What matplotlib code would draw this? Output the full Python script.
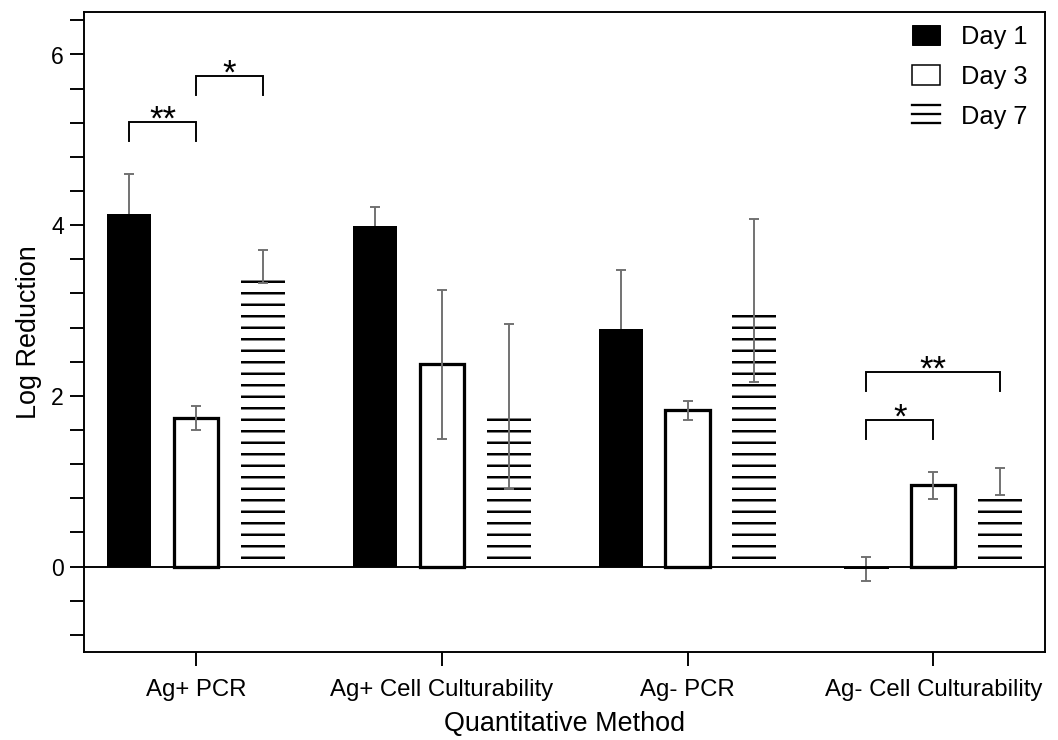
import matplotlib
matplotlib.use("Agg")
import matplotlib.pyplot as plt
import numpy as np
from matplotlib.ticker import MultipleLocator, FixedLocator
from matplotlib.legend_handler import HandlerBase
from matplotlib.lines import Line2D
from matplotlib.patches import Patch

# ---- data ----
categories = ["Ag+ PCR", "Ag+ Cell Culturability", "Ag- PCR", "Ag- Cell Culturability"]
series_labels = ["Day 1", "Day 3", "Day 7"]
day1 = [4.13, 3.99, 2.78, -0.03]
day1_err = [0.47, 0.22, 0.69, 0.14]
day3 = [1.74, 2.37, 1.83, 0.95]
day3_err = [0.14, 0.87, 0.11, 0.155]
day7 = [3.42, 1.79, 3.01, 0.90]
day7_err_low = [0.10, 0.88, 0.85, 0.06]
day7_err_high = [0.29, 1.05, 1.06, 0.26]
# significance brackets
sig_group = [0, 0, 3, 3]
sig_a = [0, 1, 0, 0]
sig_b = [1, 2, 1, 2]
sig_y = [5.21, 5.75, 1.72, 2.28]
sig_text = ["**", "*", "*", "**"]
y_ticks = [0, 2, 4, 6]

DPI = 69
plt.rcParams['font.family'] = ['Liberation Sans', 'DejaVu Sans']
plt.rcParams['hatch.linewidth'] = 2.6

fig = plt.figure(figsize=(1058.3 / DPI, 740.3 / DPI), dpi=DPI)
ax = fig.add_axes([84 / 1058, 88 / 740, (1045 - 84) / 1058, (652 - 12) / 740])

x = np.arange(len(categories))
off = 0.272
w = 0.18
ecol = '#6f6f6f'
ekw = dict(ecolor=ecol, elinewidth=2.0, capsize=5.5, capthick=2.0, fmt='none')

# Day 1
ax.errorbar(x - off, day1, yerr=day1_err, zorder=1, **ekw)
ax.bar(x - off, day1, w, color='black', zorder=2)
# Day 3
ax.bar(x, day3, w, facecolor='white', edgecolor='black', linewidth=3.4, zorder=2)
ax.errorbar(x, day3, yerr=day3_err, zorder=3, **ekw)
# Day 7
ax.bar(x + off, day7, w, facecolor='none', edgecolor='black', linewidth=0, hatch='-', zorder=2)
ax.errorbar(x + off, day7, yerr=[day7_err_low, day7_err_high], zorder=3, **ekw)

ax.axhline(0, color='black', lw=2.0, zorder=4)

# significance brackets
offsets = [-off, 0, off]
leg = 0.22
for g, a, b, yy, t in zip(sig_group, sig_a, sig_b, sig_y, sig_text):
    xa = x[g] + offsets[a]
    xb = x[g] + offsets[b]
    ax.plot([xa, xa, xb, xb], [yy - leg, yy, yy, yy - leg], color='black', lw=2.0,
            solid_joinstyle='miter', zorder=5)
    ax.annotate(t, xy=((xa + xb) / 2, yy), xytext=(0, -7.5), textcoords='offset points',
                ha='center', va='baseline', fontsize=36, zorder=5)

ax.set_xlim(-0.456, 3.456)
ax.set_ylim(-1, 6.5)
ax.set_xticks(x)
ax.set_xticklabels(categories)
ax.yaxis.set_major_locator(FixedLocator(y_ticks))
ax.yaxis.set_minor_locator(MultipleLocator(0.4))
ax.tick_params(axis='both', which='both', length=15, width=2, direction='out')
ax.tick_params(axis='x', which='major', labelsize=25, pad=13)
ax.tick_params(axis='y', which='major', labelsize=24, pad=6)
for s in ax.spines.values():
    s.set_linewidth(2)

ax.set_xlabel("Quantitative Method", fontsize=28, labelpad=10)
ax.set_ylabel("Log Reduction", fontsize=28, labelpad=10)


class ThreeLines(HandlerBase):
    def create_artists(self, legend, orig_handle, xdescent, ydescent, width, height, fontsize, trans):
        arts = []
        for f in (0.05, 0.5, 0.95):
            arts.append(Line2D([-xdescent, -xdescent + width], [-ydescent + f * height] * 2,
                               color='black', lw=2.4, transform=trans))
        return arts


h1 = Patch(facecolor='black', edgecolor='black')
h3 = Patch(facecolor='white', edgecolor='black', linewidth=1.6)
h7 = object()
ax.legend([h1, h3, h7], series_labels, handler_map={h7: ThreeLines()},
          loc='upper right', bbox_to_anchor=(1 - 18 / 961, 1 - 13 / 640),
          frameon=False, fontsize=26.5, borderaxespad=0, borderpad=0,
          handlelength=1.12, handleheight=0.82, handletextpad=0.8, labelspacing=0.62)

fig.savefig("out.png", dpi=DPI)
